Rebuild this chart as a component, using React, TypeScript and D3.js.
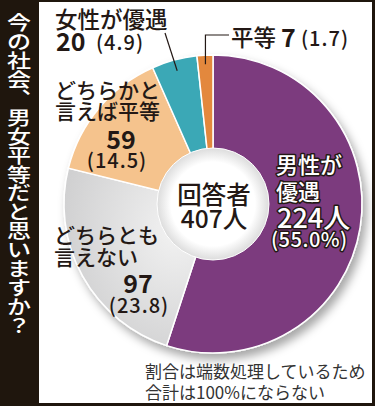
import * as d3 from "d3";
import React, { useEffect, useRef } from "react";

const W = 375;
const H = 406;

// slices in clockwise order from 12 o'clock
const categories = ["男性が優遇", "どちらとも言えない", "どちらかと言えば平等", "女性が優遇", "平等"];
const counts = [224, 97, 59, 20, 7];
const percents = ["55.0%", "23.8", "14.5", "4.9", "1.7"];
const sliceColors = ["#7b3b7e", "#d8d8d9", "#f5c38d", "#3aa8b6", "#e3883c"];

// vertical title, one glyph per cell (︑ is the vertical form of 、)
const titleChars = ["今", "の", "社", "会", "︑", "男", "女", "平", "等", "だ", "と", "思", "い", "ま", "す", "か", "？"];
const centerLines = ["回答者", "407人"];
const noteLines = ["割合は端数処理しているため", "合計は100%にならない"];

const FONT = "'Noto Sans CJK JP', 'Noto Sans', sans-serif";
const INK = "#231815";

const App = () => {
  const ref = useRef<SVGSVGElement>(null);

  useEffect(() => {
    const svg = d3.select(ref.current);
    svg.selectAll("*").remove();

    const cx = 213;
    const cy = 204;
    const radius = 149;
    const hole = 56;

    const defs = svg.append("defs");
    const f = defs.append("filter").attr("id", "shadow").attr("x", "-20%").attr("y", "-20%").attr("width", "140%").attr("height", "140%");
    f.append("feDropShadow").attr("dx", 4).attr("dy", 6).attr("stdDeviation", 5).attr("flood-color", "#000").attr("flood-opacity", 0.35);
    const hg = defs.append("radialGradient").attr("id", "hole");
    hg.append("stop").attr("offset", "75%").attr("stop-color", "#ffffff");
    hg.append("stop").attr("offset", "100%").attr("stop-color", "#dcdcdc");
    const gg = defs.append("radialGradient").attr("id", "gray").attr("cx", "75%").attr("cy", "35%").attr("r", "80%");
    gg.append("stop").attr("offset", "0%").attr("stop-color", "#f2f2f2");
    gg.append("stop").attr("offset", "100%").attr("stop-color", "#cfcfd0");

    // frame
    svg.append("rect").attr("width", W).attr("height", H).attr("fill", "#1f160d");
    svg.append("rect").attr("x", 39).attr("y", 2).attr("width", 333).attr("height", 401).attr("fill", "#ffffff");

    // vertical title, squashed a little like the print
    const tg = svg.append("g");
    titleChars.forEach((c, i) => {
      tg.append("text")
        .attr("transform", `translate(19,${22 + i * 18.9}) scale(1,0.8)`)
        .attr("text-anchor", "middle")
        .attr("dominant-baseline", "central")
        .attr("fill", "#fff")
        .attr("font-family", FONT)
        .attr("font-weight", 500)
        .attr("font-size", 24)
        .text(c);
    });

    const pie = d3
      .pie<number>()
      .sort(null)
      .value((d) => d)(counts);
    const arc = d3.arc<d3.PieArcDatum<number>>().innerRadius(0).outerRadius(radius);

    const g = svg.append("g").attr("transform", `translate(${cx},${cy})`);
    const slices = g.append("g").attr("filter", "url(#shadow)");
    slices
      .selectAll("path")
      .data(pie)
      .enter()
      .append("path")
      .attr("d", arc)
      .attr("fill", (d, i) => (i === 1 ? "url(#gray)" : sliceColors[i]))
      .attr("stroke", "#fff")
      .attr("stroke-width", 1.5);

    g.append("circle").attr("r", hole).attr("fill", "url(#hole)").attr("stroke", "#fff").attr("stroke-width", 1);

    // leader lines
    const anchor = (i: number, r: number) => {
      const a = (pie[i].startAngle + pie[i].endAngle) / 2;
      return [cx + r * Math.sin(a), cy - r * Math.cos(a)];
    };
    const [fx, fy] = anchor(3, 138);
    const [ex, ey] = anchor(4, 140);
    svg
      .append("path")
      .attr("d", `M165,33L${fx},${fy}`)
      .attr("stroke", INK)
      .attr("stroke-width", 1.2)
      .attr("fill", "none");
    svg
      .append("path")
      .attr("d", `M${ex},${ey}L${ex},35L229,35`)
      .attr("stroke", INK)
      .attr("stroke-width", 1.2)
      .attr("fill", "none");

    const txt = (x: number, y: number, s: string, size: number, opts: any = {}) =>
      svg
        .append("text")
        .attr("x", x)
        .attr("y", y)
        .attr("font-family", FONT)
        .attr("font-size", size)
        .attr("font-weight", opts.bold ? 700 : 500)
        .attr("fill", opts.fill || INK)
        .attr("text-anchor", opts.anchor || "start")
        .attr("letter-spacing", opts.ls || 0)
        .text(s);

    // 女性が優遇
    txt(55, 28, "女性が優遇", 22.5);
    txt(56, 51, String(counts[3]), 25, { bold: true });
    txt(96, 50, `(${percents[3]})`, 20, { ls: 1 });

    // 平等
    txt(231, 46, "平等", 22.5);
    txt(281, 47, String(counts[4]), 25, { bold: true });
    txt(301, 46, `(${percents[4]})`, 20, { ls: 1 });

    // どちらかと言えば平等
    txt(55, 98, "どちらかと", 21);
    txt(55, 119, "言えば平等", 21);
    txt(121, 149, String(counts[2]), 25, { bold: true, anchor: "middle" });
    txt(117, 168, `(${percents[2]})`, 20, { anchor: "middle", ls: 1 });

    // どちらとも言えない
    txt(54, 243, "どちらとも", 21);
    txt(54, 265, "言えない", 21);
    txt(138, 293, String(counts[1]), 25, { bold: true, anchor: "middle" });
    txt(139, 313, `(${percents[1]})`, 20, { anchor: "middle", ls: 1 });

    // 男性が優遇 (white with dark outline, stroke painted under the fill)
    const outlined = (x: number, y: number, s: string, size: number, ls = 0) =>
      txt(x, y, s, size, { fill: "#fff", ls })
        .attr("stroke", INK)
        .attr("stroke-width", 3)
        .attr("stroke-linejoin", "round")
        .attr("paint-order", "stroke");
    outlined(276, 173, "男性が", 22);
    outlined(276, 200, "優遇", 22);
    outlined(277, 228, `${counts[0]}人`, 27);
    outlined(271, 247, `(${percents[0]})`, 20, 0.5);

    // center
    centerLines.forEach((s, i) => txt(214, 204 + i * 24, s, 24.5, { anchor: "middle" }));

    // note
    noteLines.forEach((s, i) => txt(145, 378 + i * 21, s, 17, { fill: "#333" }).attr("font-weight", 400));
  }, []);

  return (
    <svg ref={ref} width={W} height={H} style={{ position: "absolute", left: 0, top: 0 }} />
  );
};

export default App;
